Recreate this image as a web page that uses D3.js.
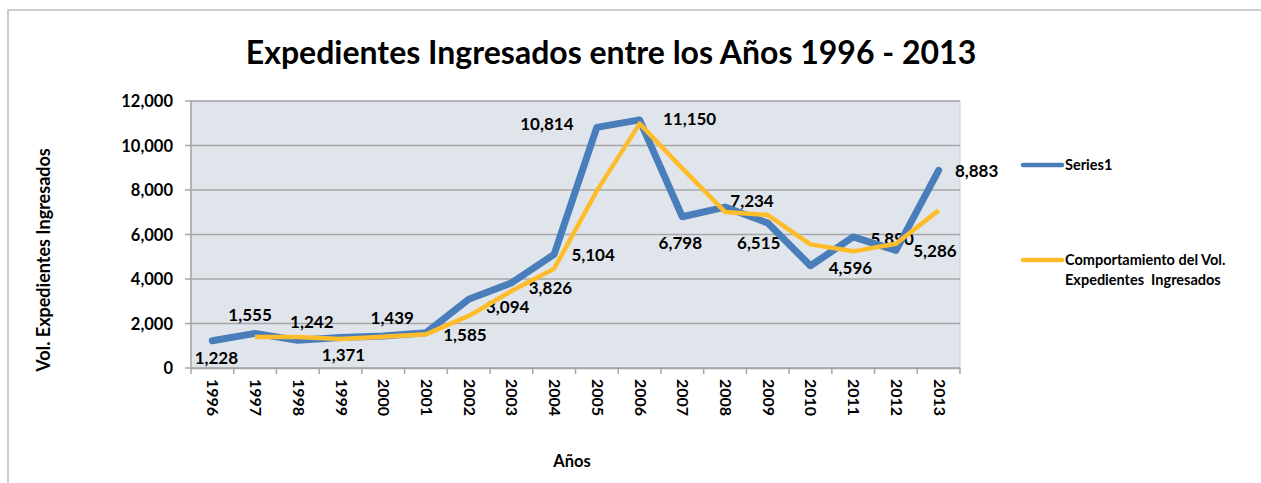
<!DOCTYPE html>
<html>
<head>
<meta charset="utf-8">
<script src="https://cdn.jsdelivr.net/npm/d3@7"></script>
<style>
body{margin:0;background:#fff}
svg text{font-family:Lato,"Open Sans",sans-serif;font-weight:bold;fill:#000}
</style>
</head>
<body>
<svg id="map" width="1261" height="483"></svg>
<script>
var years = ['1996','1997','1998','1999','2000','2001','2002','2003','2004','2005','2006','2007','2008','2009','2010','2011','2012','2013']
var series1 = [1228,1555,1242,1371,1439,1585,3094,3826,5104,10814,11150,6798,7234,6515,4596,5890,5286,8883]
// linea amarilla (empieza en 1997)
var comportamiento = [null,1391,1398,1306,1405,1512,2340,3460,4465,7959,10982,8974,7016,6875,5556,5243,5588,7085]
var yTicks = [0,2000,4000,6000,8000,10000,12000]
var seriesNames = ['Series1','Comportamiento del Vol.|Expedientes  Ingresados']

// desplazamiento de cada etiqueta respecto a su punto
var labelOff = [[4,17],[-5,-18],[14,-18],[3,18],[9,-18],[39,2],[39,8],[39,5],[39,1],[-50,-3],[50,-1],[-2,26],[27,-6],[-9,20],[40,2],[39,2],[39,1],[38,1]]

var map = d3.select('svg#map')
var pLeft = 191, pRight = 960, pTop = 101, pBottom = 368

var x = d3.scaleBand().domain(years).range([pLeft,pRight])
var y = d3.scaleLinear().domain([0,12000]).range([pBottom,pTop])
var cx = function(i){ return x(years[i]) + x.bandwidth()/2 }

// marco del grafico
map.append('path')
.attr('d','M8,483V10H1261')
.attr('fill','none')
.attr('stroke','#bfbfbf')
.attr('stroke-width',1.5)

map.append('rect')
.attr('x',pLeft).attr('y',pTop)
.attr('width',pRight-pLeft).attr('height',pBottom-pTop)
.attr('fill','#e0e5ec')
.attr('stroke','#c8ced8')

// rejilla
map.selectAll('line.grid')
.data(yTicks)
.enter()
.append('line')
.attr('class','grid')
.attr('x1',pLeft-6).attr('x2',pRight)
.attr('y1',(d) =>{ return y(d)})
.attr('y2',(d) =>{ return y(d)})
.attr('stroke','#a6a6a6')
.attr('stroke-width',1.5)

map.append('line')
.attr('x1',pLeft).attr('x2',pLeft)
.attr('y1',pTop).attr('y2',pBottom)
.attr('stroke','#a6a6a6').attr('stroke-width',1.5)

map.selectAll('text.ytick')
.data(yTicks)
.enter()
.append('text')
.attr('class','ytick')
.attr('x',173)
.attr('y',(d) =>{ return y(d) + 6})
.attr('text-anchor','end')
.attr('font-size',16.5)
.text(d3.format(','))

// eje x
var xAxis = d3.axisBottom(x).tickSize(0).tickFormat('')
map.append('g').attr('transform','translate(0,' + pBottom + ')').call(xAxis)
.call(g => g.select('.domain').attr('stroke','#a6a6a6').attr('stroke-width',1.5))

map.selectAll('line.xtick')
.data(years.concat(['end']))
.enter()
.append('line')
.attr('class','xtick')
.attr('x1',(d,i) =>{ return pLeft + i*x.bandwidth()})
.attr('x2',(d,i) =>{ return pLeft + i*x.bandwidth()})
.attr('y1',pBottom).attr('y2',pBottom+6)
.attr('stroke','#a6a6a6').attr('stroke-width',1.5)

map.selectAll('text.xlab')
.data(years)
.enter()
.append('text')
.attr('class','xlab')
.attr('font-size',16)
.attr('transform',(d,i) =>{ return 'translate(' + (cx(i) - 5) + ',' + (pBottom + 11) + ') rotate(90)'})
.text((d) =>{ return d})

// etiquetas (debajo de las lineas, como en el original)
map.selectAll('text.lab')
.data(series1)
.enter()
.append('text')
.attr('class','lab')
.attr('font-size',17)
.attr('text-anchor','middle')
.attr('x',(d,i) =>{ return cx(i) + labelOff[i][0]})
.attr('y',(d,i) =>{ return y(d) + labelOff[i][1] + 6})
.text(d3.format(','))

// lineas
var line = d3.line()
.defined((d) =>{ return d != null})
.x((d,i) =>{ return cx(i)})
.y((d) =>{ return y(d)})

map.append('path')
.attr('d',line(series1))
.attr('fill','none')
.attr('stroke','#4a7ebb')
.attr('stroke-width',7)
.attr('stroke-linejoin','round')
.attr('stroke-linecap','round')

map.append('path')
.attr('d',line(comportamiento))
.attr('fill','none')
.attr('stroke','#fdbd2b')
.attr('stroke-width',4.5)
.attr('stroke-linejoin','round')

// titulos
map.append('text')
.attr('x',611).attr('y',64)
.attr('text-anchor','middle')
.attr('font-size',32)
.text('Expedientes Ingresados entre los Años 1996 - 2013')

map.append('text')
.attr('transform','translate(50,260) rotate(-90)')
.attr('text-anchor','middle')
.attr('font-size',18)
.text('Vol. Expedientes Ingresados')

map.append('text')
.attr('x',572).attr('y',467)
.attr('text-anchor','middle')
.attr('font-size',16.5)
.text('Años')

// leyenda
var legColors = ['#4a7ebb','#fdbd2b']
var legY = [165,260]
seriesNames.forEach(function(name,k){
	map.append('line')
	.attr('x1',1023).attr('x2',1062)
	.attr('y1',legY[k]).attr('y2',legY[k])
	.attr('stroke',legColors[k])
	.attr('stroke-width',4.5)
	.attr('stroke-linecap','round')
	var parts = name.split('|')
	var t = map.append('text')
	.attr('x',1065).attr('y',legY[k] + 5)
	.attr('font-size',14.5)
	.attr('xml:space','preserve')
	parts.forEach(function(p,j){
		t.append('tspan').attr('x',1065).attr('dy',j == 0 ? 0 : 20).text(p)
	})
})
</script>
</body>
</html>
